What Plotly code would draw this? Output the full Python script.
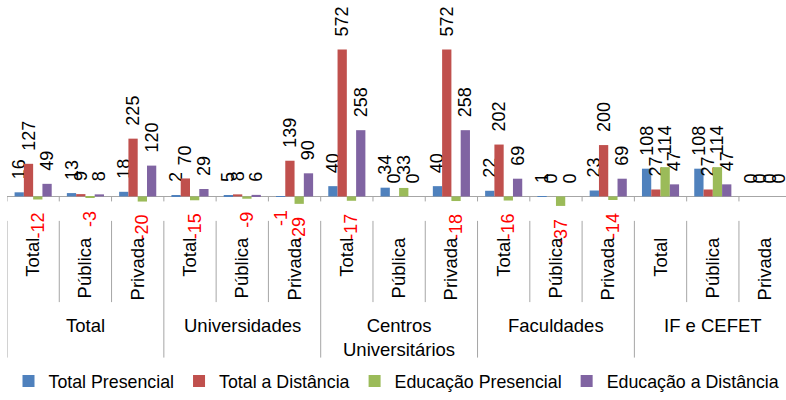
import plotly.graph_objects as go

groups = ["Total", "Universidades", "Centros<br>Universitários", "Faculdades", "IF e CEFET"]
subs = ["Total", "Pública", "Privada"]

series_names = ["Total Presencial", "Total a Distância", "Educação Presencial", "Educação a Distância"]
colors = ["#4F81BD", "#C0504D", "#9BBB59", "#8064A2"]

total_presencial = [16, 13, 18, 2, 5, -1, 40, 34, 40, 22, 1, 23, 108, 108, 0]
total_distancia = [127, 9, 225, 70, 8, 139, 572, 0, 572, 202, 0, 200, 27, 27, 0]
educ_presencial = [-12, -3, -20, -15, -9, -29, -17, 33, -18, -16, -37, -14, 114, 114, 0]
educ_distancia = [49, 8, 120, 29, 6, 90, 258, 0, 258, 69, 0, 69, 47, 47, 0]
series_values = [total_presencial, total_distancia, educ_presencial, educ_distancia]

cat_ids = [f"{g}|{s}" for g in groups for s in subs]
tick_text = [s for g in groups for s in subs]

FONT = "Liberation Sans, Arial, sans-serif"
NB = "\u00a0\u00a0"

def lab(v):
    return (NB + str(v)) if v >= 0 else (str(v) + NB)

fig = go.Figure()
for name, col, vals in zip(series_names, colors, series_values):
    fig.add_trace(go.Bar(
        x=cat_ids, y=vals, name=name,
        marker=dict(color=col, line=dict(width=0)),
        text=[lab(v) for v in vals],
        textposition="outside", textangle=-90,
        constraintext="none", cliponaxis=False,
        textfont=dict(family=FONT, size=18,
                      color=["#FF0000" if v < 0 else "#000000" for v in vals]),
        hoverinfo="skip",
    ))

shapes = []
n = len(cat_ids)
for k in range(n + 1):
    xpos = k - 0.5
    is_group = (k % 3 == 0)
    # small ticks at the zero line
    shapes.append(dict(type="line", xref="x", yref="y", x0=xpos, x1=xpos,
                       ysizemode="pixel", yanchor=0, y0=0, y1=-5,
                       line=dict(color="#A6A6A6", width=1)))
    shapes.append(dict(type="line", xref="x", yref="paper", x0=xpos, x1=xpos,
                       y0=(211 - 223) / 211, y1=(211 - (361 if is_group else 305)) / 211,
                       line=dict(color="#A6A6A6", width=1)))

annotations = []
for gi, g in enumerate(groups):
    annotations.append(dict(x=cat_ids[gi * 3 + 1], xref="x", y=(211 - 316) / 211, yref="paper",
                            text=g, showarrow=False, yanchor="top", xanchor="center",
                            font=dict(family=FONT, size=18.5, color="#000")))

fig.update_layout(
    width=786, height=400,
    margin=dict(l=7, r=0, t=0, b=189),
    paper_bgcolor="white", plot_bgcolor="white",
    barmode="group", bargap=0.29, bargroupgap=0,
    showlegend=True,
    legend=dict(orientation="h", x=0.5, xanchor="center", y=(211 - 385) / 211, yanchor="middle",
                font=dict(family=FONT, size=17.8, color="#000"), itemclick=False),
    xaxis=dict(type="category", range=[-0.5, 14.4], tickmode="array", tickvals=cat_ids,
               ticktext=tick_text, tickangle=-90, ticks="", showline=False, showgrid=False,
               ticklabelstandoff=24, tickfont=dict(family=FONT, size=18.5, color="#000")),
    yaxis=dict(range=[-49, 765], showticklabels=False, showgrid=False, zeroline=True,
               zerolinecolor="#A6A6A6", zerolinewidth=1, showline=False, ticks=""),
    shapes=shapes, annotations=annotations,
    font=dict(family=FONT),
)

fig.write_html("out.html")
